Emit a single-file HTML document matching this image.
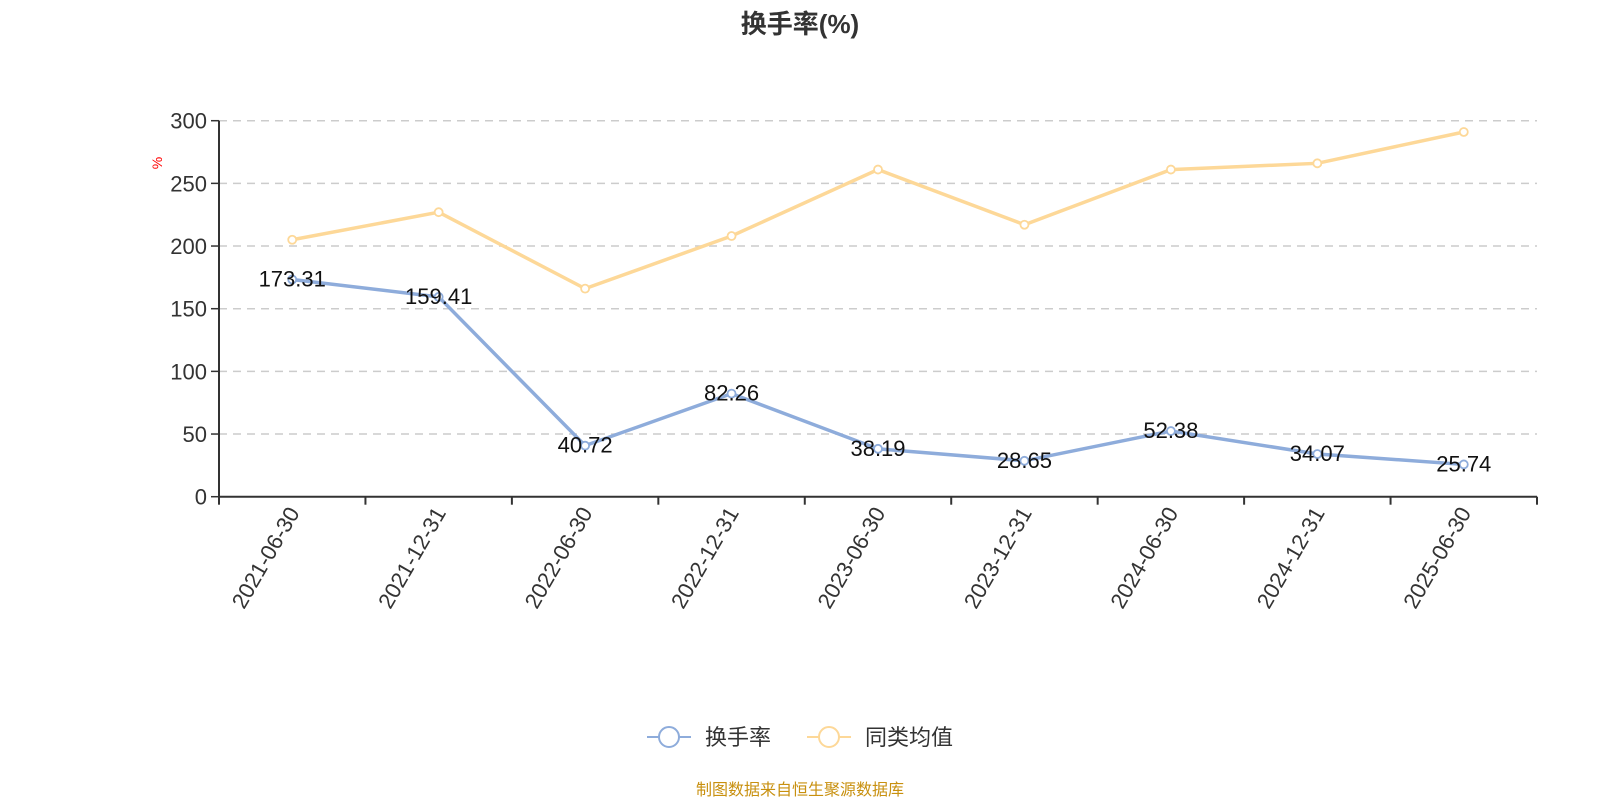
<!DOCTYPE html>
<html><head><meta charset="utf-8"><style>
body{margin:0;background:#fff;}
svg text{font-family:"Liberation Sans","Noto Sans CJK SC",sans-serif;}
</style></head><body>
<svg width="1600" height="800" xmlns="http://www.w3.org/2000/svg">
<text x="800" y="33" text-anchor="middle" font-size="26" font-weight="bold" fill="#333">换手率(%)</text>
<text x="0" y="0" transform="translate(162,163) rotate(-90)" text-anchor="middle" font-size="14" fill="#f00">%</text>
<g id="grid"></g><g id="axes"></g><g id="series"></g><g id="labels"></g>
<g>
<g>
<line x1="647" y1="737" x2="691" y2="737" stroke="#8eacdb" stroke-width="2"/><circle cx="669" cy="737" r="10" fill="#fff" stroke="#8eacdb" stroke-width="2"/>
<text x="705" y="745" font-size="22" fill="#333">换手率</text></g>
<g>
<line x1="807" y1="737" x2="851" y2="737" stroke="#fdd898" stroke-width="2"/><circle cx="829" cy="737" r="10" fill="#fff" stroke="#fdd898" stroke-width="2"/>
<text x="865" y="745" font-size="22" fill="#333">同类均值</text></g>
</g>
<text x="800" y="795" text-anchor="middle" font-size="16" fill="#c8900f">制图数据来自恒生聚源数据库</text>
</svg>
<script>
const categories=["2021-06-30","2021-12-31","2022-06-30","2022-12-31","2023-06-30","2023-12-31","2024-06-30","2024-12-31","2025-06-30"];
const turnover=[173.31,159.41,40.72,82.26,38.19,28.65,52.38,34.07,25.74];
const peerAvg=[205,227,166,208,261,217,261,266,291];
const yTicks=[0,50,100,150,200,250,300];
const NS="http://www.w3.org/2000/svg";
const x0=219,x1=1537,yTop=120.7,yBot=496.7,yMax=300;
const band=(x1-x0)/categories.length;
const xs=i=>x0+band*(i+0.5);
const ys=v=>yBot-(v/yMax)*(yBot-yTop);
function mk(tag,attrs,parent){const e=document.createElementNS(NS,tag);for(const k in attrs)e.setAttribute(k,attrs[k]);parent.appendChild(e);return e;}
const grid=document.getElementById('grid'),axes=document.getElementById('axes'),series=document.getElementById('series'),labels=document.getElementById('labels');
yTicks.forEach(t=>{
 if(t>0){const g=mk('line',{x1:x0,x2:x1,y1:ys(t),y2:ys(t),stroke:'#ccc','stroke-width':1.5,'stroke-dasharray':'8,6'},grid);
 
 }
 const tk=mk('line',{x1:x0-8,x2:x0,y1:ys(t),y2:ys(t),stroke:'#333','stroke-width':1.5},axes);
 
 
 const tx=mk('text',{x:x0-12,y:ys(t)+8,'text-anchor':'end','font-size':22,fill:'#333'},axes);
 tx.textContent=t;
 
 
});
const ya=mk('line',{x1:x0,x2:x0,y1:yTop,y2:yBot+6,stroke:'#333','stroke-width':2},axes);


const xa=mk('line',{x1:x0,x2:x1,y1:yBot,y2:yBot,stroke:'#333','stroke-width':2},axes);


for(let i=0;i<=categories.length;i++){
 const t=mk('line',{x1:x0+band*i,x2:x0+band*i,y1:yBot,y2:yBot+8,stroke:'#333','stroke-width':2},axes);
 
 
}
categories.forEach((c,i)=>{
 const t=mk('text',{x:0,y:0,transform:`translate(${xs(i)+8},${yBot+16}) rotate(-60)`,'text-anchor':'end','font-size':22,fill:'#333'},axes);
 t.textContent=c;
 
 
});
function drawSeries(vals,color,name,withLabels){
 const pts=vals.map((v,i)=>xs(i)+','+ys(v)).join(' ');
 const pl=mk('polyline',{points:pts,fill:'none',stroke:color,'stroke-width':3.5},series);
 
 
 vals.forEach((v,i)=>{
  const c=mk('circle',{cx:xs(i),cy:ys(v),r:4,fill:'#fff',stroke:color,'stroke-width':1.8},series);
  
  
  if(withLabels){
   const t=mk('text',{x:xs(i),y:ys(v)+7,'text-anchor':'middle','font-size':22,fill:'#111'},labels);
   t.textContent=v.toFixed(2);
   
   
  }
 });
}
drawSeries(peerAvg,'#fdd898','peer-average',false);
drawSeries(turnover,'#8eacdb','turnover',true);
</script>
</body></html>
